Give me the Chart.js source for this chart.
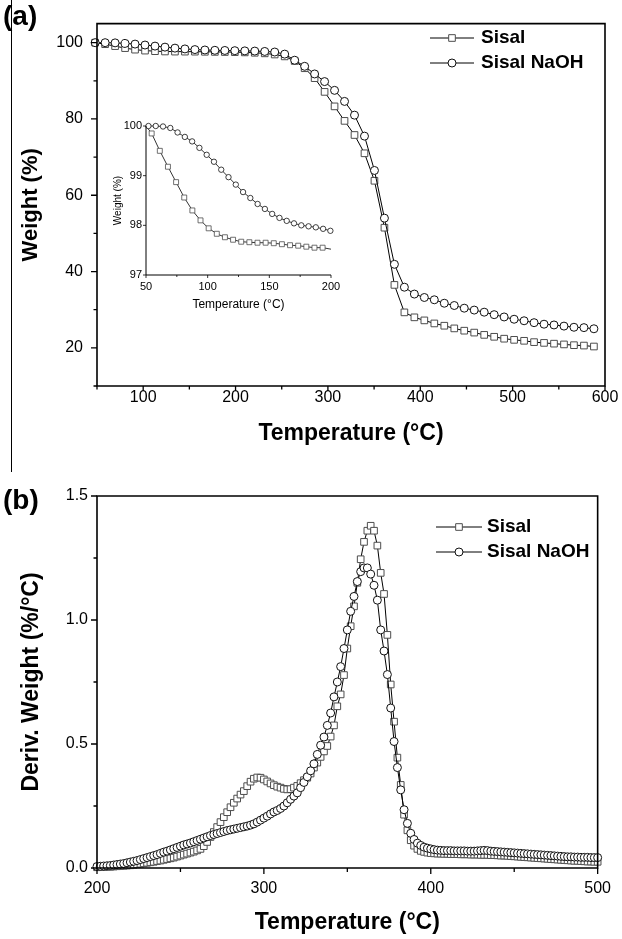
<!DOCTYPE html>
<html>
<head>
<meta charset="utf-8">
<script src="https://cdn.jsdelivr.net/npm/chart.js@4.4.1/dist/chart.umd.min.js"></script>
<style>
  body { margin: 0; background: #fff; }
  #wrap { position: relative; width: 622px; height: 939px; font-family: "Liberation Sans", Arial, sans-serif; }
  canvas { position: absolute; }
  .panel { position: absolute; font-weight: bold; font-size: 28px; line-height: 28px; }
  #side { position: absolute; left: 11px; top: 0; height: 472px; border-left: 1px solid #000; }
</style>
</head>
<body>
<div id="wrap">
  <div id="side"></div>
  <canvas id="chartA" style="left:0;top:0" width="622" height="470"></canvas>
  <canvas id="inset" style="left:100px;top:110px" width="250" height="210"></canvas>
  <canvas id="chartB" style="left:0;top:470px" width="622" height="469"></canvas>
  <div class="panel" style="left:3px;top:2px">(a)</div>
  <div class="panel" style="left:3px;top:486px">(b)</div>
</div>
<script>
// ---- (a) TGA curves, main plot ----
const A_TEMP = [48, 58.8, 69.6, 80.4, 91.2, 102, 112.8, 123.6, 134.4, 145.2, 156, 166.8, 177.6, 188.4, 199.2,
  210, 220.8, 231.6, 242.4, 253.2, 264, 274.8, 285.6, 296.4, 307.2, 318, 328.8, 339.6, 350.4, 361.2,
  372, 382.8, 393.6, 404.4, 415.2, 426, 436.8, 447.6, 458.4, 469.2, 480, 490.8, 501.6, 512.4, 523.2,
  534, 544.8, 555.6, 566.4, 577.2, 588];
const A_SISAL = [100.0, 99.6, 99.1, 98.57, 98.17, 97.92, 97.77, 97.69, 97.66, 97.65, 97.64, 97.61, 97.58, 97.55, 97.52,
  97.45, 97.35, 97.2, 96.9, 96.4, 95.2, 93.3, 90.7, 87.1, 83.3, 79.5, 75.8, 71.0, 63.8, 51.5,
  36.5, 29.3, 28.0, 27.2, 26.4, 25.8, 25.1, 24.5, 24.0, 23.4, 22.9, 22.4, 22.1, 21.85, 21.5,
  21.3, 21.1, 20.9, 20.7, 20.6, 20.35];
const A_NAOH = [100.0, 100.0, 99.95, 99.8, 99.63, 99.38, 99.1, 98.83, 98.57, 98.36, 98.19, 98.08, 98.0, 97.96, 97.9,
  97.85, 97.8, 97.7, 97.55, 97.0, 95.4, 93.8, 91.8, 89.8, 87.5, 84.6, 81.0, 75.5, 66.5, 54.0,
  41.9, 35.9, 34.1, 33.2, 32.6, 31.7, 31.1, 30.4, 29.9, 29.35, 28.7, 28.1, 27.5, 27.1, 26.6,
  26.2, 26.0, 25.7, 25.4, 25.3, 25.0];
const A_X_MAJOR = [100, 200, 300, 400, 500, 600];
const A_X_MINOR = [50, 150, 250, 350, 450, 550];
const A_Y_MAJOR = [20, 40, 60, 80, 100];
const A_Y_MINOR = [10, 30, 50, 70, 90];

// ---- (a) inset, 50-200 C ----
const IN_SISAL_T = [50, 54.6, 61.2, 67.8, 74.4, 81, 87.6, 94.2, 100.8, 107.4, 114, 120.6, 127.2, 133.8, 140.4,
  147, 153.6, 160.2, 166.8, 173.4, 180, 186.6, 193.2, 200];
const IN_SISAL = [100.0, 99.85, 99.5, 99.18, 98.87, 98.56, 98.3, 98.1, 97.94, 97.83, 97.76, 97.71, 97.67, 97.66, 97.65,
  97.65, 97.64, 97.62, 97.6, 97.59, 97.57, 97.55, 97.55, 97.52];
const IN_NAOH_T = [52, 57.9, 63.8, 69.7, 75.6, 81.5, 87.4, 93.3, 99.2, 105.1, 111, 116.9, 122.8, 128.7, 134.6,
  140.5, 146.4, 152.3, 158.2, 164.1, 170, 175.9, 181.8, 187.7, 193.6, 199.5];
const IN_NAOH = [100.0, 100.0, 99.99, 99.96, 99.87, 99.78, 99.69, 99.56, 99.42, 99.28, 99.12, 98.97, 98.82, 98.67, 98.55,
  98.43, 98.33, 98.23, 98.15, 98.09, 98.04, 98.0, 97.98, 97.96, 97.93, 97.89];
const IN_X_MAJOR = [50, 100, 150, 200];
const IN_X_MINOR = [75, 125, 175];
const IN_Y_MAJOR = [97, 98, 99, 100];

// ---- (b) DTG curves ----
const B_TEMP = [200, 202, 204, 206, 208, 210, 212, 214, 216, 218, 220, 222, 224, 226, 228, 230, 232, 234, 236, 238,
  240, 242, 244, 246, 248, 250, 252, 254, 256, 258, 260, 262, 264, 266, 268, 270, 272, 274, 276, 278,
  280, 282, 284, 286, 288, 290, 292, 294, 296, 298, 300, 302, 304, 306, 308, 310, 312, 314, 316, 318,
  320, 322, 324, 326, 328, 330, 332, 334, 336, 338, 340, 342, 344, 346, 348, 350, 352, 354, 356, 358,
  360, 362, 364, 366, 368, 370, 372, 374, 376, 378, 380, 382, 384, 386, 388, 390, 392, 394, 396, 398,
  400, 402, 404, 406, 408, 410, 412, 414, 416, 418, 420, 422, 424, 426, 428, 430, 432, 434, 436, 438,
  440, 442, 444, 446, 448, 450, 452, 454, 456, 458, 460, 462, 464, 466, 468, 470, 472, 474, 476, 478,
  480, 482, 484, 486, 488, 490, 492, 494, 496, 498, 500];
const B_SISAL = [0.003, 0.004, 0.004, 0.005, 0.005, 0.006, 0.007, 0.008, 0.009, 0.010, 0.011, 0.013, 0.015, 0.017, 0.019, 0.021, 0.023, 0.025, 0.028, 0.030,
  0.033, 0.036, 0.039, 0.042, 0.046, 0.050, 0.054, 0.058, 0.062, 0.066, 0.071, 0.077, 0.088, 0.105, 0.125, 0.145, 0.165, 0.185, 0.205, 0.225,
  0.245, 0.263, 0.280, 0.296, 0.310, 0.330, 0.348, 0.360, 0.365, 0.364, 0.357, 0.349, 0.341, 0.334, 0.328, 0.324, 0.319, 0.317, 0.318, 0.324,
  0.331, 0.342, 0.354, 0.364, 0.381, 0.405, 0.425, 0.448, 0.470, 0.492, 0.530, 0.575, 0.652, 0.700, 0.778, 0.885, 0.975, 1.055, 1.150, 1.245,
  1.315, 1.360, 1.380, 1.360, 1.300, 1.190, 1.105, 0.940, 0.740, 0.590, 0.445, 0.335, 0.215, 0.152, 0.112, 0.090, 0.077, 0.069, 0.065, 0.062,
  0.060, 0.059, 0.058, 0.058, 0.057, 0.057, 0.056, 0.056, 0.056, 0.055, 0.055, 0.055, 0.054, 0.054, 0.054, 0.053, 0.053, 0.053, 0.052, 0.052,
  0.051, 0.050, 0.050, 0.049, 0.048, 0.047, 0.046, 0.045, 0.044, 0.043, 0.042, 0.041, 0.040, 0.039, 0.038, 0.037, 0.036, 0.035, 0.034, 0.033,
  0.032, 0.031, 0.030, 0.029, 0.029, 0.028, 0.027, 0.026, 0.026, 0.025, 0.025];
const B_NAOH = [0.006, 0.007, 0.008, 0.009, 0.010, 0.012, 0.014, 0.016, 0.018, 0.021, 0.024, 0.027, 0.030, 0.034, 0.038, 0.042, 0.046, 0.050, 0.054, 0.059,
  0.064, 0.068, 0.073, 0.078, 0.083, 0.088, 0.093, 0.097, 0.101, 0.106, 0.111, 0.116, 0.121, 0.126, 0.131, 0.135, 0.139, 0.143, 0.147, 0.151,
  0.154, 0.157, 0.160, 0.163, 0.166, 0.169, 0.173, 0.178, 0.185, 0.193, 0.201, 0.209, 0.218, 0.226, 0.232, 0.240, 0.250, 0.263, 0.277, 0.290,
  0.303, 0.324, 0.345, 0.368, 0.392, 0.420, 0.458, 0.495, 0.528, 0.575, 0.625, 0.690, 0.750, 0.812, 0.885, 0.960, 1.035, 1.095, 1.155, 1.195,
  1.210, 1.210, 1.185, 1.140, 1.080, 0.960, 0.875, 0.780, 0.645, 0.510, 0.405, 0.315, 0.235, 0.180, 0.140, 0.115, 0.100, 0.091, 0.084, 0.080,
  0.077, 0.074, 0.072, 0.071, 0.070, 0.070, 0.070, 0.069, 0.069, 0.069, 0.069, 0.068, 0.068, 0.068, 0.069, 0.070, 0.071, 0.070, 0.068, 0.067,
  0.066, 0.065, 0.064, 0.063, 0.062, 0.061, 0.060, 0.059, 0.058, 0.057, 0.056, 0.055, 0.054, 0.053, 0.052, 0.051, 0.050, 0.049, 0.048, 0.047,
  0.046, 0.045, 0.045, 0.044, 0.044, 0.043, 0.043, 0.043, 0.042, 0.042, 0.042];
const B_X_MAJOR = [200, 300, 400, 500];
const B_X_MINOR = [250, 350, 450];
const B_Y_MAJOR = [0, 0.5, 1.0, 1.5];
const B_Y_MINOR = [0.25, 0.75, 1.25];

const FONT = "'Liberation Sans', Arial, sans-serif";
Chart.defaults.font.family = FONT;
Chart.defaults.color = '#000';

function pairs(xs, ys) {
  return xs.map(function (x, i) { return { x: x, y: ys[i] }; });
}

function drawMarker(ctx, ds, x, y) {
  var r = ds.pointRadius;
  ctx.fillStyle = '#fff';
  ctx.strokeStyle = ds.pointBorderColor;
  ctx.lineWidth = ds.pointBorderWidth;
  ctx.beginPath();
  if (ds.pointStyle === 'rect') {
    var h = r * Math.SQRT1_2;
    ctx.rect(x - h, y - h, 2 * h, 2 * h);
  } else {
    ctx.arc(x, y, r, 0, Math.PI * 2);
  }
  ctx.fill();
  ctx.stroke();
}

// box (or L axes) + outward major/minor ticks
const axisFrame = {
  id: 'axisFrame',
  afterDraw(chart, args, o) {
    var ctx = chart.ctx, a = chart.chartArea, sx = chart.scales.x, sy = chart.scales.y;
    ctx.save();
    ctx.strokeStyle = '#000';
    ctx.lineWidth = o.lineWidth;
    ctx.beginPath();
    if (o.box) {
      ctx.rect(a.left, a.top, a.right - a.left, a.bottom - a.top);
    } else {
      ctx.moveTo(a.left, a.top);
      ctx.lineTo(a.left, a.bottom);
      ctx.lineTo(a.right, a.bottom);
    }
    ctx.stroke();
    ctx.lineWidth = o.tickWidth;
    ctx.beginPath();
    function xt(vals, len) {
      vals.forEach(function (v) {
        var p = sx.getPixelForValue(v);
        ctx.moveTo(p, a.bottom);
        ctx.lineTo(p, a.bottom + len);
      });
    }
    function yt(vals, len) {
      vals.forEach(function (v) {
        var p = sy.getPixelForValue(v);
        ctx.moveTo(a.left, p);
        ctx.lineTo(a.left - len, p);
      });
    }
    xt(o.xMajor, o.xLen[0]);
    xt(o.xMinor, o.xLen[1]);
    yt(o.yMajor, o.yLen[0]);
    yt(o.yMinor, o.yLen[1]);
    ctx.stroke();
    ctx.restore();
  }
};

// legend with line + marker sample
const lineLegend = {
  id: 'lineLegend',
  afterDraw(chart, args, o) {
    if (!o.rows) return;
    var ctx = chart.ctx;
    ctx.save();
    o.rows.forEach(function (dsIndex, i) {
      var ds = chart.data.datasets[dsIndex];
      var y = o.y + i * o.gap;
      ctx.strokeStyle = ds.borderColor;
      ctx.lineWidth = ds.borderWidth;
      ctx.beginPath();
      ctx.moveTo(o.x, y);
      ctx.lineTo(o.x + o.len, y);
      ctx.stroke();
      drawMarker(ctx, ds, o.x + o.len / 2, y);
      ctx.fillStyle = '#000';
      ctx.font = o.font;
      ctx.textBaseline = 'middle';
      ctx.fillText(ds.label, o.textX, y);
    });
    ctx.restore();
  }
};

function sisalSet(data, r) {
  return {
    label: 'Sisal', data: data, order: 1, clip: false,
    borderColor: '#000', borderWidth: 1,
    pointStyle: 'rect', pointRadius: r, pointBorderWidth: 1,
    pointBorderColor: '#4d4d4d', pointBackgroundColor: '#fff'
  };
}
function naohSet(data, r) {
  return {
    label: 'Sisal NaOH', data: data, order: 0, clip: false,
    borderColor: '#000', borderWidth: 1,
    pointStyle: 'circle', pointRadius: r, pointBorderWidth: 1,
    pointBorderColor: '#111', pointBackgroundColor: '#fff'
  };
}

function scaleX(min, max, major, fontSize, pad, height, title) {
  return {
    type: 'linear', min: min, max: max,
    afterBuildTicks: function (s) { s.ticks = major.map(function (v) { return { value: v }; }); },
    afterFit: function (s) { s.height = height; },
    grid: { display: false, drawTicks: false },
    border: { display: false },
    ticks: { autoSkip: false, maxRotation: 0, padding: pad, font: { size: fontSize } },
    title: title
  };
}
function scaleY(min, max, major, fontSize, pad, width, title, fmt) {
  return {
    type: 'linear', min: min, max: max,
    afterBuildTicks: function (s) { s.ticks = major.map(function (v) { return { value: v }; }); },
    afterFit: function (s) { s.width = width; },
    grid: { display: false, drawTicks: false },
    border: { display: false },
    ticks: { autoSkip: false, padding: pad, font: { size: fontSize }, callback: fmt || function (v) { return v; } },
    title: title
  };
}

// ---------- chart (a) ----------
new Chart(document.getElementById('chartA'), {
  type: 'line',
  data: { datasets: [sisalSet(pairs(A_TEMP, A_SISAL), 4.7), naohSet(pairs(A_TEMP, A_NAOH), 4)] },
  plugins: [axisFrame, lineLegend],
  options: {
    responsive: false, animation: false, events: [],
    layout: { padding: { top: 13, right: 17, left: 0, bottom: 0 } },
    scales: {
      x: scaleX(50, 600, A_X_MAJOR, 16, 2, 84,
        { display: true, text: 'Temperature (\u00b0C)', font: { size: 23, weight: 'bold' }, padding: { top: 0, bottom: 23 } }),
      y: scaleY(10, 105, A_Y_MAJOR, 16, 14, 97,
        { display: true, text: 'Weight (%)', font: { size: 22, weight: 'bold' }, padding: { top: 18, bottom: 0 } })
    },
    plugins: {
      legend: { display: false }, tooltip: { enabled: false },
      axisFrame: { box: true, lineWidth: 1.6, tickWidth: 1.3, xMajor: A_X_MAJOR, xMinor: A_X_MINOR, yMajor: A_Y_MAJOR, yMinor: A_Y_MINOR, xLen: [5, 3.5], yLen: [6, 3.5] },
      lineLegend: { rows: [0, 1], x: 430, len: 44, textX: 481, y: 38, gap: 25, font: 'bold 19px ' + FONT }
    }
  }
});

// ---------- inset ----------
var inSisal = sisalSet(pairs(IN_SISAL_T, IN_SISAL), 3.5);
inSisal.pointRadius = function (c) { return (c.dataIndex === 0 || c.dataIndex === IN_SISAL_T.length - 1) ? 0 : 3.5; };
inSisal.borderWidth = 0.8;
inSisal.pointBorderWidth = 0.8;
var inNaoh = naohSet(pairs(IN_NAOH_T, IN_NAOH), 2.7);
inNaoh.borderWidth = 0.8;
inNaoh.pointBorderWidth = 0.8;
new Chart(document.getElementById('inset'), {
  type: 'line',
  data: { datasets: [inSisal, inNaoh] },
  plugins: [axisFrame],
  options: {
    responsive: false, animation: false, events: [],
    layout: { padding: { top: 16, right: 19, left: 0, bottom: 0 } },
    scales: {
      x: scaleX(50, 200, IN_X_MAJOR, 11, 5, 45,
        { display: true, text: 'Temperature (\u00b0C)', font: { size: 12 }, padding: { top: 0, bottom: 8 } }),
      y: scaleY(97, 100, IN_Y_MAJOR, 11, 4, 46,
        { display: true, text: 'Weight (%)', font: { size: 10 }, padding: { top: 12, bottom: 0 } })
    },
    plugins: {
      legend: { display: false }, tooltip: { enabled: false },
      axisFrame: { box: false, lineWidth: 1, tickWidth: 0.8, xMajor: IN_X_MAJOR, xMinor: IN_X_MINOR, yMajor: IN_Y_MAJOR, yMinor: [], xLen: [3, 2], yLen: [3, 2] }
    }
  }
});

// ---------- chart (b) ----------
new Chart(document.getElementById('chartB'), {
  type: 'line',
  data: { datasets: [sisalSet(pairs(B_TEMP, B_SISAL), 4.7), naohSet(pairs(B_TEMP, B_NAOH), 4)] },
  plugins: [axisFrame, lineLegend],
  options: {
    responsive: false, animation: false, events: [],
    layout: { padding: { top: 26, right: 17, left: 0, bottom: 0 } },
    scales: {
      x: scaleX(200, 500, B_X_MAJOR, 16, 11, 71,
        { display: true, text: 'Temperature (\u00b0C)', font: { size: 23, weight: 'bold' }, padding: { top: 0, bottom: 3 } }),
      y: scaleY(0, 1.5, B_Y_MAJOR, 16, 9, 97,
        { display: true, text: 'Deriv. Weight (%/\u00b0C)', font: { size: 23, weight: 'bold' }, padding: { top: 18, bottom: 0 } },
        function (v) { return v.toFixed(1); })
    },
    plugins: {
      legend: { display: false }, tooltip: { enabled: false },
      axisFrame: { box: true, lineWidth: 1.6, tickWidth: 1.3, xMajor: B_X_MAJOR, xMinor: B_X_MINOR, yMajor: B_Y_MAJOR, yMinor: B_Y_MINOR, xLen: [6, 4], yLen: [6, 3.5] },
      lineLegend: { rows: [0, 1], x: 436, len: 46, textX: 487, y: 57, gap: 25, font: 'bold 19px ' + FONT }
    }
  }
});
</script>
</body>
</html>
